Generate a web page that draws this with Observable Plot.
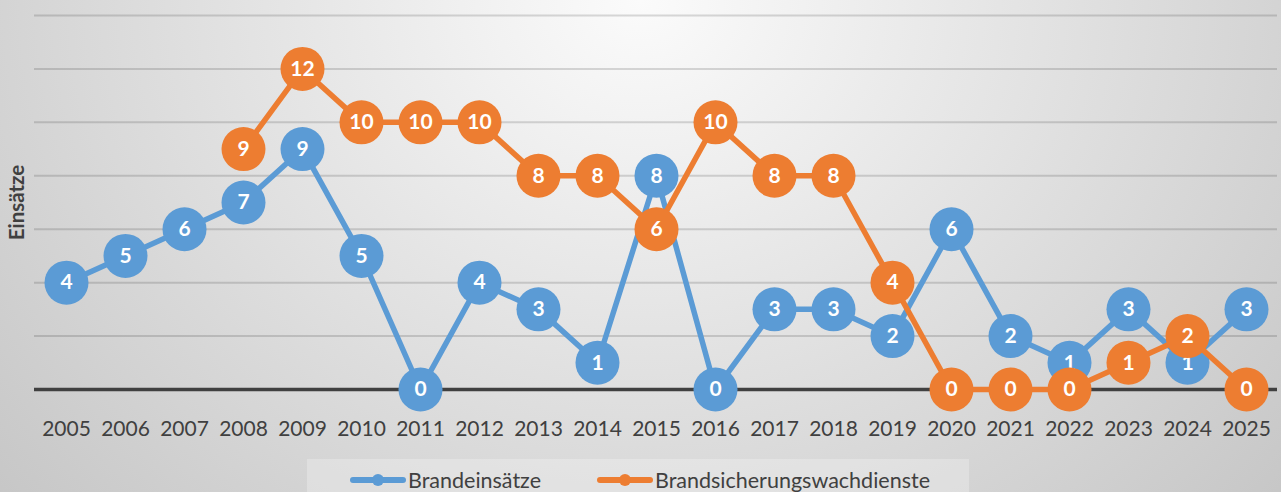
<!DOCTYPE html>
<html>
<head>
<meta charset="utf-8">
<script src="https://cdn.jsdelivr.net/npm/d3@7"></script>
<script src="https://cdn.jsdelivr.net/npm/@observablehq/plot@0.6"></script>
<style>
  html, body { margin: 0; padding: 0; }
  #wrap {
    position: relative; width: 1281px; height: 492px; overflow: hidden;
    background: radial-gradient(ellipse 70% 160% at 50% 0%, #fbfbfb 0%, #c4c4c4 100%);
    font-family: Lato, "Open Sans", sans-serif;
  }
  #legend {
    position: absolute; left: 307px; top: 459px; width: 662px; height: 40px;
    background: rgba(255,255,255,0.25);
    display: flex; align-items: flex-start; padding-top: 8px; box-sizing: border-box;
    font-size: 21.5px; color: #404040;
  }
  .item { display: flex; align-items: center; margin-left: 43px; }
  .item + .item { margin-left: 56px; }
  .sw { position: relative; width: 56px; height: 6px; border-radius: 3px; margin-right: 2px; }
  .sw::after { content: ""; position: absolute; left: 22px; top: -3px; width: 12px; height: 12px; border-radius: 50%; background: inherit; }
</style>
</head>
<body>
<div id="wrap">
  <div id="chart"></div>
  <div id="legend"></div>
</div>
<script>
const years = [2005,2006,2007,2008,2009,2010,2011,2012,2013,2014,2015,2016,2017,2018,2019,2020,2021,2022,2023,2024,2025];
const brandeinsaetze = [4,5,6,7,9,5,0,4,3,1,8,0,3,3,2,6,2,1,3,1,3];
const wachdienste = [null,null,null,9,12,10,10,10,8,8,6,10,8,8,4,0,0,0,1,2,0];
const gridValues = [2,4,6,8,10,12,14];
const seriesNames = ["Brandeinsätze", "Brandsicherungswachdienste"];
const yTitle = "Einsätze";
const colors = ["#5B9BD5", "#ED7D31"];

const blue = years.map((y, i) => ({year: y, value: brandeinsaetze[i]}));
const orange = years.map((y, i) => ({year: y, value: wachdienste[i]})).filter(d => d.value != null);

const chart = Plot.plot({
  width: 1281,
  height: 460,
  marginLeft: 34,
  marginRight: 4,
  marginTop: 15,
  marginBottom: 71,
  style: {background: "transparent", fontFamily: "Lato, 'Open Sans', sans-serif", overflow: "visible"},
  x: {type: "point", domain: years, padding: 0.5, label: null},
  y: {domain: [0, 14], label: null, axis: null},
  marks: [
    Plot.ruleY(gridValues, {stroke: "#000", strokeOpacity: 0.14, strokeWidth: 2}),
    Plot.ruleY([0], {stroke: "#404040", strokeWidth: 3.5}),
    Plot.axisX({tickSize: 0, tickPadding: 32, fontSize: 21, color: "#404040", tickFormat: d => String(d)}),
    Plot.text([yTitle], {frameAnchor: "left", textAnchor: "middle", rotate: -90, dx: -17, fontSize: 20.5, fontWeight: "bold", fill: "#404040"}),
    Plot.line(blue, {x: "year", y: "value", stroke: colors[0], strokeWidth: 5.5}),
    Plot.dot(blue, {x: "year", y: "value", r: 22, fill: colors[0]}),
    Plot.text(blue, {x: "year", y: "value", text: d => String(d.value), fill: "white", fontSize: 21, fontWeight: "bold"}),
    Plot.line(orange, {x: "year", y: "value", stroke: colors[1], strokeWidth: 5.5}),
    Plot.dot(orange, {x: "year", y: "value", r: 22, fill: colors[1]}),
    Plot.text(orange, {x: "year", y: "value", text: d => String(d.value), fill: "white", fontSize: 21, fontWeight: "bold"})
  ]
});
document.getElementById("chart").appendChild(chart);

const legend = document.getElementById("legend");
seriesNames.forEach((name, i) => {
  const item = document.createElement("div");
  item.className = "item";
  const sw = document.createElement("span");
  sw.className = "sw";
  sw.style.background = colors[i];
  const label = document.createElement("span");
  label.textContent = name;
  item.appendChild(sw);
  item.appendChild(label);
  legend.appendChild(item);
});
</script>
</body>
</html>
